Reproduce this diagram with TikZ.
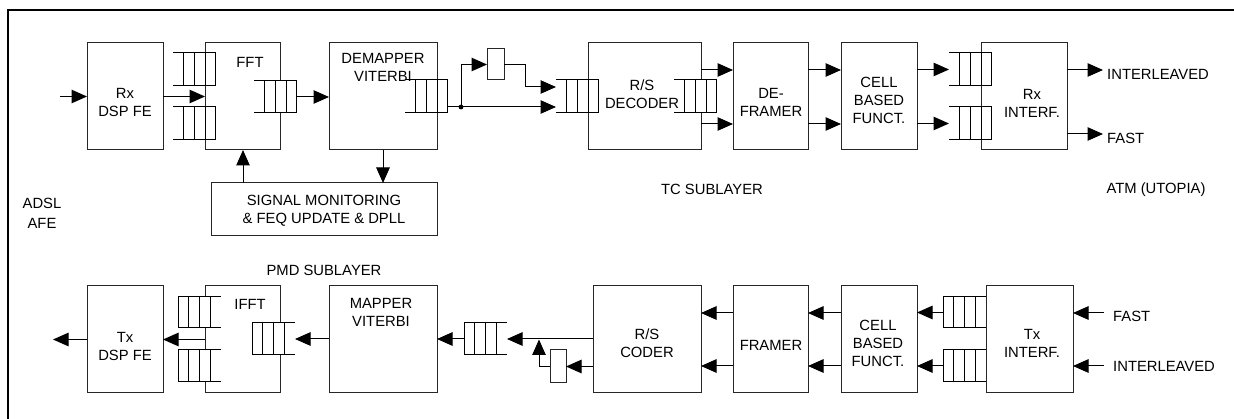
\documentclass[tikz,border=0pt]{standalone}
\usepackage{fontspec}
\setmainfont{Liberation Sans}
\usetikzlibrary{arrows.meta}
\tikzset{
  blk/.style={draw=black!85, line width=1pt, fill=white, inner sep=0pt, outer sep=0pt, anchor=north west},
  txt/.style={font=\fontsize{14.8}{18}\selectfont, align=center, inner sep=0pt},
  arr/.style={line width=1pt, -{Triangle[length=15.5pt,width=13.5pt]}},
  ln/.style={line width=1pt},
  ql/.style={line width=1pt},
}
% queue, open on the left: name, x of open end, y top, y bottom
\newcommand\qopenleft[4]{%
  \fill[white] ({#2+10.7},#3) rectangle ({#2+42.8},#4);
  \draw[ql] (#2,#3) -- ({#2+42.8},#3) (#2,#4) -- ({#2+42.8},#4);
  \foreach \k in {1,2,3,4} {\draw[ql] ({#2+10.7*\k},#3) -- ({#2+10.7*\k},#4);}
  \coordinate (#1-in) at (#2,{(#3+#4)/2});
  \coordinate (#1-out) at ({#2+42.8},{(#3+#4)/2});
}
% queue, open on the right: name, x of closed end, y top, y bottom
\newcommand\qopenright[4]{%
  \fill[white] (#2,#3) rectangle ({#2+32.1},#4);
  \draw[ql] (#2,#3) -- ({#2+43},#3) (#2,#4) -- ({#2+43},#4);
  \foreach \k in {0,1,2,3} {\draw[ql] ({#2+10.7*\k},#3) -- ({#2+10.7*\k},#4);}
  \coordinate (#1-in) at (#2,{(#3+#4)/2});
  \coordinate (#1-out) at ({#2+43},{(#3+#4)/2});
}
\begin{document}
\begin{tikzpicture}[x=1pt,y=-1pt]
\useasboundingbox (0,0) rectangle (1234,419);
\fill[white] (0,0) rectangle (1234,419);
\draw[line width=2.8pt] (8,425) -- (8,10) -- (1240,10);

% row coordinates
\coordinate (r1) at (0,70);
\coordinate (r2) at (0,124);
\coordinate (r3) at (0,313);
\coordinate (r4) at (0,366);
\coordinate (cx1) at (243,0);
\coordinate (cx2) at (383,0);

% top row boxes
\node[blk, minimum width=76pt, minimum height=107pt] (rx) at (87,43) {};
\node[blk, minimum width=75pt, minimum height=107pt] (fft) at (205,43) {};
\node[blk, minimum width=108pt, minimum height=107pt] (dem) at (329,43) {};
\node[blk, minimum width=17pt, minimum height=31pt] (sb1) at (487,49) {};
\node[blk, minimum width=113pt, minimum height=107pt] (rsd) at (588,43) {};
\node[blk, minimum width=75pt, minimum height=107pt] (defr) at (733,43) {};
\node[blk, minimum width=76pt, minimum height=107pt] (cbf1) at (841,43) {};
\node[blk, minimum width=86pt, minimum height=107pt] (rxi) at (981,43) {};
\node[blk, minimum width=226pt, minimum height=53pt] (sig) at (211,183) {};

% bottom row boxes
\node[blk, minimum width=76pt, minimum height=107pt] (tx) at (87,286) {};
\node[blk, minimum width=75pt, minimum height=107pt] (ifft) at (205,286) {};
\node[blk, minimum width=108pt, minimum height=107pt] (map) at (329,286) {};
\node[blk, minimum width=16pt, minimum height=33pt] (sb2) at (550,350) {};
\node[blk, minimum width=108pt, minimum height=107pt] (rsc) at (593,286) {};
\node[blk, minimum width=75pt, minimum height=107pt] (fr) at (733,286) {};
\node[blk, minimum width=76pt, minimum height=107pt] (cbf2) at (841,286) {};
\node[blk, minimum width=87pt, minimum height=107pt] (txi) at (986,286) {};

% queues
\qopenleft{qa}{173}{53}{86}
\qopenleft{qb}{173}{107}{140}
\qopenleft{qc}{254}{81}{113}
\qopenleft{qd}{405}{80}{113}
\qopenleft{qe}{556}{80}{113}
\qopenleft{qf}{674}{80}{113}
\qopenleft{qg}{949}{53}{86}
\qopenleft{qh}{949}{107}{140}
\qopenright{qi}{178}{297}{328}
\qopenright{qj}{178}{350}{382}
\qopenright{qk}{252}{323}{355}
\qopenright{ql}{464}{323}{355}
\qopenright{qm}{943}{297}{328}
\qopenright{qn}{943}{350}{382}

% free ends and junctions
\coordinate (rxin) at (60,96.5);
\coordinate (dq) at (447,107);
\coordinate (jn) at (461,107);
\coordinate (bend) at (525,87);
\coordinate (o1) at (1103,70);
\coordinate (o2) at (1103,134);
\coordinate (txout) at (53,339.5);
\coordinate (jb) at (539,339.5);
\coordinate (i1) at (1104,313);
\coordinate (i2) at (1104,366);

% top connectors
\draw[arr] (rxin) -- (rx.west);
\draw[arr] (rx.east) -- (fft.west);
\draw[arr] (qc-out) -- (qc-out -| dem.west);
\draw[ln] (dq) -- (jn);
\fill (jn) circle (2.4pt);
\draw[arr] (jn) -- (jn -| qe-in);
\draw[arr] (jn) |- (sb1.west);
\draw[arr] (sb1.east) -| (bend) -- (bend -| qe-in);
\draw[arr] (rsd.east |- r1) -- (defr.west |- r1);
\draw[arr] (rsd.east |- r2) -- (defr.west |- r2);
\draw[arr] (defr.east |- r1) -- (cbf1.west |- r1);
\draw[arr] (defr.east |- r2) -- (cbf1.west |- r2);
\draw[arr] (cbf1.east |- qg-in) -- (qg-in);
\draw[arr] (cbf1.east |- qh-in) -- (qh-in);
\draw[arr] (rxi.east |- o1) -- (o1);
\draw[arr] (rxi.east |- o2) -- (o2);
\draw[arr] (sig.north -| cx1) -- (fft.south -| cx1);
\draw[arr] (dem.south -| cx2) -- (sig.north -| cx2);

% bottom connectors
\draw[arr] (tx.west) -- (txout);
\draw[arr] (ifft.west) -- (tx.east);
\draw[arr] (map.west |- qk-out) -- (qk-out);
\draw[arr] (ql-in) -- (ql-in -| map.east);
\draw[arr] (rsc.west |- ql-out) -- (ql-out);
\draw[arr] (rsc.west |- sb2.east) -- (sb2.east);
\draw[arr] (sb2.west) -| (jb);
\draw[arr] (fr.west |- r3) -- (rsc.east |- r3);
\draw[arr] (fr.west |- r4) -- (rsc.east |- r4);
\draw[arr] (cbf2.west |- r3) -- (fr.east |- r3);
\draw[arr] (cbf2.west |- r4) -- (fr.east |- r4);
\draw[arr] (qm-in) -- (qm-in -| cbf2.east);
\draw[arr] (qn-in) -- (qn-in -| cbf2.east);
\draw[arr] (i1) -- (i1 -| txi.east);
\draw[arr] (i2) -- (i2 -| txi.east);

% texts
\node[txt] (t-rx) at (125,102.5) {Rx\\DSP FE};
\node[txt] (t-fft) at (250,62) {FFT};
\node[txt] (t-dem) at (383,67.5) {DEMAPPER\\VITERBI};
\node[txt] (t-rsd) at (642,94) {R/S\\DECODER};
\node[txt] (t-defr) at (771,102) {DE-\\FRAMER};
\node[txt] (t-cbf1) at (879,100) {CELL\\BASED\\FUNCT.};
\node[txt] (t-rxi) at (1032,103) {Rx\\INTERF.};
\node[txt, anchor=west] (t-il1) at (1107,74) {INTERLEAVED};
\node[txt, anchor=west] (t-fast1) at (1107,138) {FAST};
\node[txt] (t-atm) at (1156,190) {ATM (UTOPIA)};
\node[txt] (t-tc) at (712,189) {TC SUBLAYER};
\node[txt, font=\fontsize{14.8}{20}\selectfont] (t-adsl) at (42,213) {ADSL\\AFE};
\node[txt] (t-sig) at (324,211) {SIGNAL MONITORING\\\& FEQ UPDATE \& DPLL};
\node[txt] (t-pmd) at (324,270) {PMD SUBLAYER};
\node[txt] (t-tx) at (125,346) {Tx\\DSP FE};
\node[txt] (t-ifft) at (250,304) {IFFT};
\node[txt] (t-map) at (381,312.5) {MAPPER\\VITERBI};
\node[txt] (t-rsc) at (647,343) {R/S\\CODER};
\node[txt] (t-fr) at (771,345) {FRAMER};
\node[txt] (t-cbf2) at (878,343) {CELL\\BASED\\FUNCT.};
\node[txt] (t-txi) at (1032,343) {Tx\\INTERF.};
\node[txt, anchor=west] (t-fast2) at (1113,316) {FAST};
\node[txt, anchor=west] (t-il2) at (1113,366) {INTERLEAVED};
\end{tikzpicture}
\end{document}
